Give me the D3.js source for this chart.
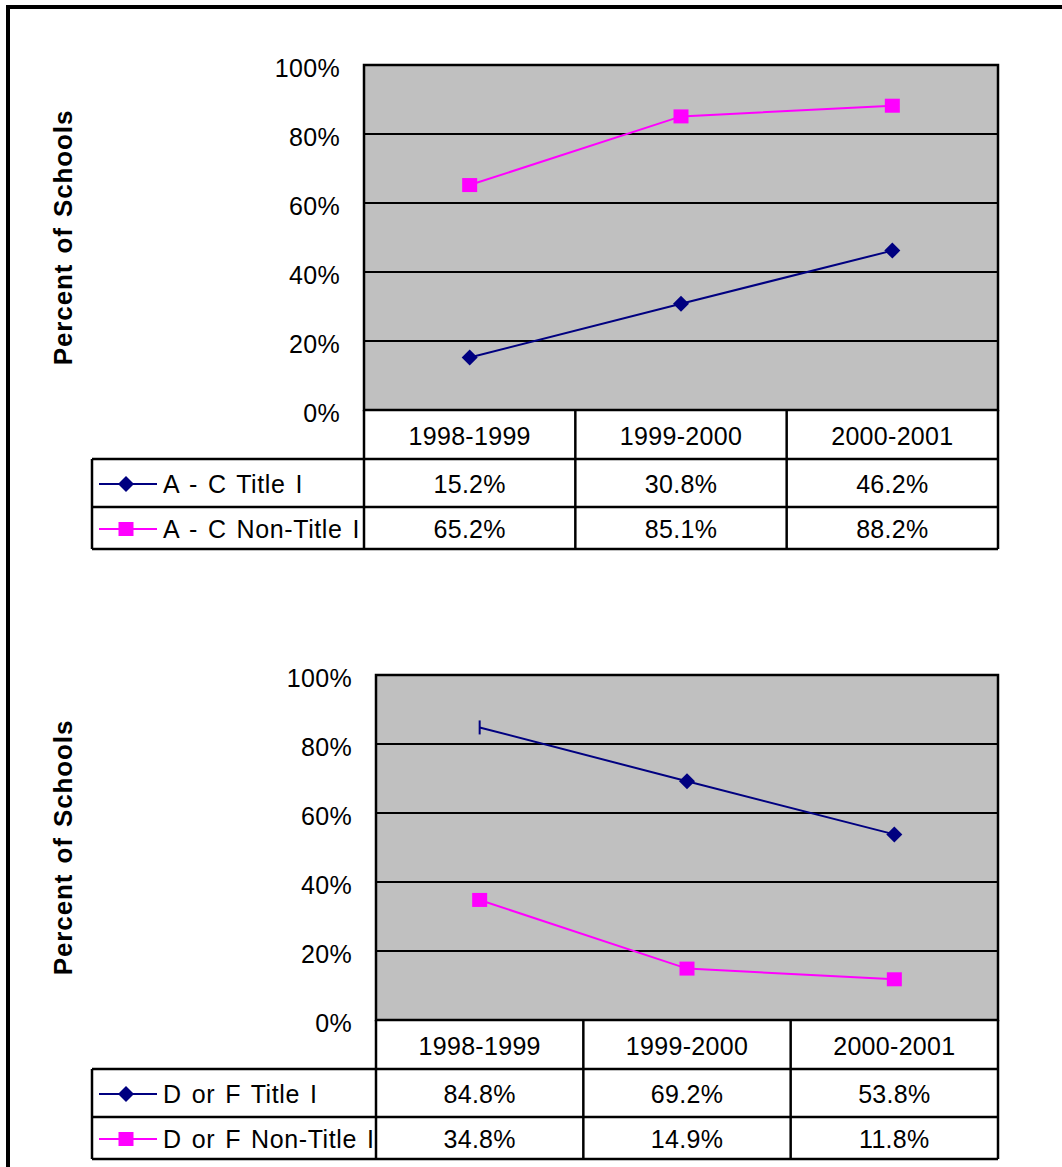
<!DOCTYPE html>
<html>
<head>
<meta charset="utf-8">
<script src="https://cdn.jsdelivr.net/npm/d3@7"></script>
<style>
  html, body { margin: 0; padding: 0; background: #fff; }
  svg { display: block; }
  text { font-family: "Liberation Sans", Arial, sans-serif; fill: #000; }
</style>
</head>
<body>
<svg id="chart" width="1062" height="1167"></svg>
<script>
// Shared category labels and y-axis ticks
const categories = ["1998-1999", "1999-2000", "2000-2001"];
const yTicks = [0, 20, 40, 60, 80, 100];

// Grade A - C schools (percent)
const acTitleI = [15.2, 30.8, 46.2];
const acNonTitleI = [65.2, 85.1, 88.2];

// Grade D or F schools (percent)
const dfTitleI = [84.8, 69.2, 53.8];
const dfNonTitleI = [34.8, 14.9, 11.8];

const seriesNames = {
  ac: ["A - C Title I", "A - C Non-Title I"],
  df: ["D or F Title I", "D or F Non-Title I"]
};

const NAVY = "#000080", MAGENTA = "#FF00FF", PLOT_BG = "#C0C0C0";
const FONT = 25;

const svg = d3.select("#chart");

// outer frame
svg.append("rect")
  .attr("x", 8).attr("y", 7)
  .attr("width", 1100).attr("height", 1200)
  .attr("fill", "none").attr("stroke", "#000").attr("stroke-width", 4);

function drawPanel(opts) {
  const { left, right, top, bottom, tableLeft, rows, series } = opts;
  const g = svg.append("g");

  const x = d3.scaleBand().domain(categories).range([left, right]).padding(0);
  const y = d3.scaleLinear().domain([0, 100]).range([bottom, top]);

  // plot background
  g.append("rect")
    .attr("x", left).attr("y", top)
    .attr("width", right - left).attr("height", bottom - top)
    .attr("fill", PLOT_BG);

  // gridlines
  g.append("g").selectAll("line").data(yTicks.filter(t => t > 0 && t < 100)).join("line")
    .attr("x1", left).attr("x2", right)
    .attr("y1", d => y(d)).attr("y2", d => y(d))
    .attr("stroke", "#000").attr("stroke-width", 2);

  // plot border
  g.append("rect")
    .attr("x", left).attr("y", top)
    .attr("width", right - left).attr("height", bottom - top)
    .attr("fill", "none").attr("stroke", "#000").attr("stroke-width", 2.5);

  // y axis tick labels
  const yAxis = d3.axisLeft(y).tickValues(yTicks).tickFormat(d => d + "%").tickSize(0).tickPadding(24);
  const ya = g.append("g").attr("transform", `translate(${left},0)`).call(yAxis);
  ya.select(".domain").remove();
  ya.selectAll("text")
    .attr("font-size", FONT)
    .attr("font-family", "'Liberation Sans', Arial, sans-serif")
    .attr("fill", "#000")
    .attr("letter-spacing", 0.3)
    .attr("dy", "0.45em");

  // y axis title
  g.append("text")
    .attr("transform", `translate(${63},${(top + bottom) / 2}) rotate(-90)`)
    .attr("text-anchor", "middle")
    .attr("dominant-baseline", "central")
    .attr("font-size", 26)
    .attr("font-weight", "bold")
    .attr("letter-spacing", 0.9)
    .attr("word-spacing", 2)
    .text("Percent of Schools");

  // series lines and markers
  const line = d3.line().x((d, i) => x(categories[i]) + x.bandwidth() / 2).y(d => y(d));
  series.forEach(s => {
    g.append("path")
      .datum(s.values)
      .attr("d", line)
      .attr("fill", "none")
      .attr("stroke", s.color)
      .attr("stroke-width", 2);
    s.values.forEach((v, i) => {
      const cx = x(categories[i]) + x.bandwidth() / 2, cy = y(v);
      drawMarker(g, s.marker, cx, cy, s.color, s.capFirst && i === 0);
    });
  });

  // data table
  const rowH = [bottom, bottom + rows[0], bottom + rows[0] + rows[1], bottom + rows[0] + rows[1] + rows[2]];
  const t = g.append("g");
  const stroke = (x1, y1, x2, y2) => t.append("line")
    .attr("x1", x1).attr("y1", y1).attr("x2", x2).attr("y2", y2)
    .attr("stroke", "#000").attr("stroke-width", 2.5);

  for (let r = 1; r < rowH.length; r++) stroke(tableLeft, rowH[r], right, rowH[r]);
  stroke(tableLeft, rowH[1], tableLeft, rowH[3]);
  const colEdges = [left, ...categories.slice(1).map(c => x(c)), right];
  colEdges.forEach(cx => stroke(cx, bottom, cx, rowH[3]));

  // category header row
  categories.forEach(c => {
    t.append("text")
      .attr("x", x(c) + x.bandwidth() / 2)
      .attr("y", (rowH[0] + rowH[1]) / 2 + 1)
      .attr("text-anchor", "middle").attr("dominant-baseline", "central")
      .attr("font-size", FONT)
      .attr("letter-spacing", 0.3)
      .text(c);
  });

  // value rows with legend keys
  series.forEach((s, r) => {
    const cy = (rowH[r + 1] + rowH[r + 2]) / 2 + 1;
    t.append("line")
      .attr("x1", tableLeft + 7).attr("x2", tableLeft + 65)
      .attr("y1", cy).attr("y2", cy)
      .attr("stroke", s.color).attr("stroke-width", 2);
    drawMarker(t, s.marker, tableLeft + 34, cy, s.color, false);
    t.append("text")
      .attr("x", tableLeft + 71).attr("y", cy)
      .attr("dominant-baseline", "central")
      .attr("font-size", FONT)
      .attr("letter-spacing", 0.6)
      .attr("word-spacing", 2.5)
      .text(s.name);
    s.values.forEach((v, i) => {
      t.append("text")
        .attr("x", x(categories[i]) + x.bandwidth() / 2).attr("y", cy)
        .attr("text-anchor", "middle").attr("dominant-baseline", "central")
        .attr("font-size", FONT)
        .attr("letter-spacing", 0.3)
        .text(v.toFixed(1) + "%");
    });
  });
}

function drawMarker(g, type, cx, cy, color, cap) {
  if (cap) {
    // first point of this series renders as a short vertical cap
    g.append("line")
      .attr("x1", cx).attr("x2", cx).attr("y1", cy - 7).attr("y2", cy + 7)
      .attr("stroke", color).attr("stroke-width", 2);
    return;
  }
  if (type === "diamond") {
    const r = 8;
    g.append("path")
      .attr("d", `M${cx},${cy - r}L${cx + r},${cy}L${cx},${cy + r}L${cx - r},${cy}Z`)
      .attr("fill", color);
  } else {
    const w = 15, h = 14;
    g.append("rect")
      .attr("x", cx - w / 2).attr("y", cy - h / 2)
      .attr("width", w).attr("height", h)
      .attr("fill", color);
  }
}

drawPanel({
  left: 364, right: 998, top: 65, bottom: 410,
  tableLeft: 92, rows: [49, 48, 42],
  series: [
    { name: seriesNames.ac[0], values: acTitleI, color: NAVY, marker: "diamond" },
    { name: seriesNames.ac[1], values: acNonTitleI, color: MAGENTA, marker: "square" }
  ]
});

drawPanel({
  left: 376, right: 998, top: 675, bottom: 1020,
  tableLeft: 92, rows: [49, 48, 42],
  series: [
    { name: seriesNames.df[0], values: dfTitleI, color: NAVY, marker: "diamond", capFirst: true },
    { name: seriesNames.df[1], values: dfNonTitleI, color: MAGENTA, marker: "square" }
  ]
});
</script>
</body>
</html>
